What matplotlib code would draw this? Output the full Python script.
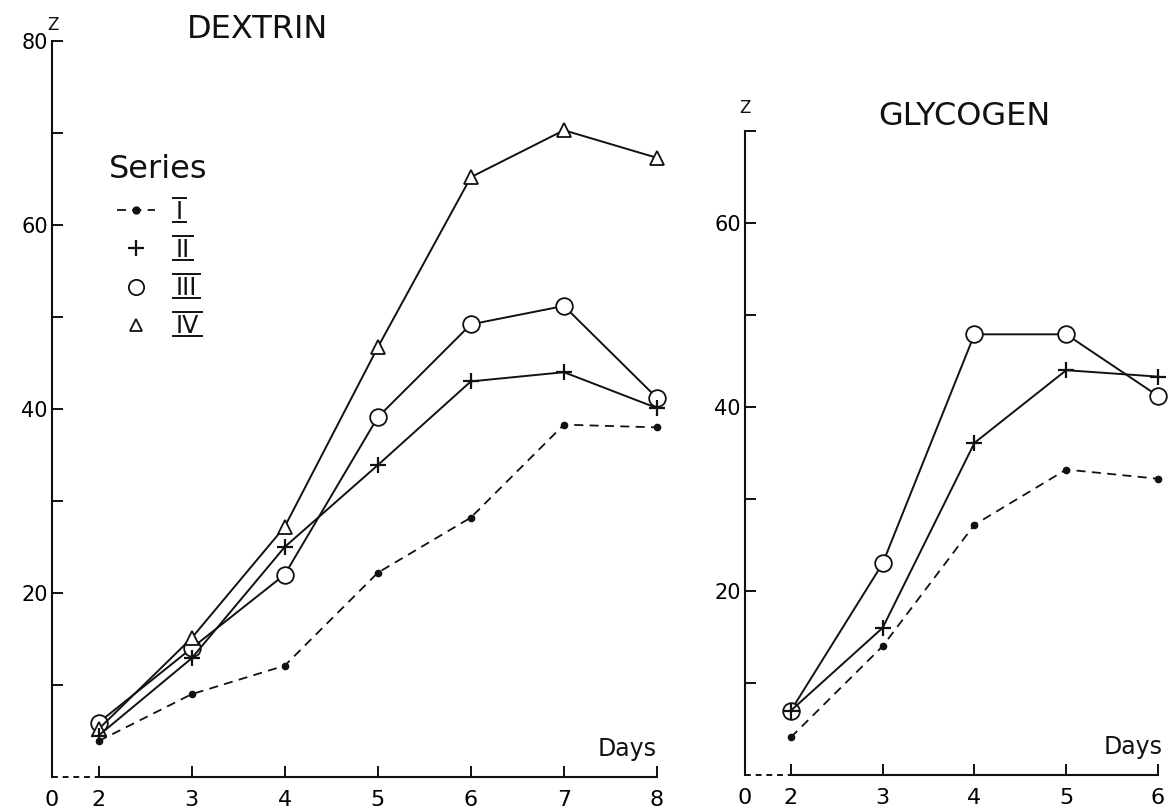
import matplotlib.pyplot as plt
from matplotlib.lines import Line2D

plt.rcParams['font.family'] = 'DejaVu Sans'

# sampling days
dextrin_days = [2, 3, 4, 5, 6, 7, 8]
glycogen_days = [2, 3, 4, 5, 6]

# Z per series, dextrin
dextrin_s1 = [3.9, 9.0, 12.1, 22.2, 28.2, 38.3, 38.0]
dextrin_s2 = [4.5, 12.9, 25.0, 33.9, 43.0, 44.0, 40.1]
dextrin_s3 = [5.9, 14.0, 22.0, 39.1, 49.2, 51.2, 41.2]
dextrin_s4 = [5.2, 15.1, 27.2, 46.7, 65.2, 70.3, 67.3]

# Z per series, glycogen (no series IV)
glycogen_s1 = [4.1, 14.0, 27.2, 33.2, 32.2]
glycogen_s2 = [7.0, 16.0, 36.1, 44.0, 43.3]
glycogen_s3 = [7.0, 23.0, 47.9, 47.9, 41.2]

series_labels = ['I', 'II', 'III', 'IV']

INK = '#111111'

# one style per series
styles = [
    dict(ls=(0, (5, 3.5)), marker='o', ms=4.5, mfc=INK, mec=INK, lw=1.3, zorder=2),
    dict(ls='-', marker='+', ms=11, mew=1.6, lw=1.4, zorder=4),
    dict(ls='-', marker='o', ms=12, mfc='white', mec=INK, mew=1.3, lw=1.4, zorder=3),
    dict(ls='-', marker='^', ms=10, mfc='white', mec=INK, mew=1.3, lw=1.4, zorder=3),
]


def setup_axis(ax, xmax, ymax, ylabeled):
    ax.set_xlim(1.5, xmax)
    ax.set_ylim(0, ymax)
    for side in ['top', 'right']:
        ax.spines[side].set_visible(False)
    ax.spines['left'].set_linewidth(1.5)
    ax.spines['bottom'].set_linewidth(1.5)
    ax.spines['bottom'].set_bounds(2, xmax)
    ax.spines['left'].set_color(INK)
    ax.spines['bottom'].set_color(INK)

    # broken axis: dashed piece from origin to day 2
    ax.axhline(0, xmin=0, xmax=0.5 / (xmax - 1.5), color=INK, lw=1.4,
               ls=(0, (3, 2.5)), clip_on=False)

    xt = [1.5] + list(range(2, int(xmax) + 1))
    ax.set_xticks(xt)
    ax.set_xticklabels(['0'] + [str(v) for v in xt[1:]])
    ax.xaxis.get_major_ticks()[0].tick1line.set_visible(False)

    yt = list(range(10, ymax + 1, 10))
    ax.set_yticks(yt)
    ax.set_yticklabels([str(v) if v in ylabeled else '' for v in yt])

    ax.tick_params(axis='both', direction='in', length=8, width=1.4, color=INK)
    ax.tick_params(axis='x', labelsize=16, pad=9)
    ax.tick_params(axis='y', labelsize=15, pad=3)


fig = plt.figure(figsize=(11.68, 8.08), dpi=100)
ax1 = fig.add_axes([52 / 1168, 31 / 808, 605 / 1168, 736 / 808])
ax2 = fig.add_axes([745 / 1168, 33 / 808, 413 / 1168, 644 / 808])

dextrin = [dextrin_s1, dextrin_s2, dextrin_s3, dextrin_s4]
glycogen = [glycogen_s1, glycogen_s2, glycogen_s3]

for vals, st in zip(dextrin, styles):
    ax1.plot(dextrin_days, vals, color=INK, clip_on=False, **st)
for vals, st in zip(glycogen, styles):
    ax2.plot(glycogen_days, vals, color=INK, clip_on=False, **st)

setup_axis(ax1, 8, 80, [20, 40, 60, 80])
setup_axis(ax2, 6, 70, [20, 40, 60])

# axis letters and panel titles
ax1.text(0.002, 1.009, 'Z', transform=ax1.transAxes, ha='center', va='bottom',
         fontsize=12, color=INK)
ax2.text(0.0, 1.022, 'Z', transform=ax2.transAxes, ha='center', va='bottom',
         fontsize=12, color=INK)
ax1.text(0.223, 1.015, 'DEXTRIN', transform=ax1.transAxes, ha='left',
         va='center', fontsize=23, color=INK)
ax2.text(0.322, 1.022, 'GLYCOGEN', transform=ax2.transAxes, ha='left',
         va='center', fontsize=23, color=INK)
ax1.text(1.0, 0.038, 'Days', transform=ax1.transAxes, ha='right',
         va='center', fontsize=17, color=INK)
ax2.text(1.01, 0.043, 'Days', transform=ax2.transAxes, ha='right',
         va='center', fontsize=17, color=INK)

# legend
handles = []
for st in styles:
    h = dict(st)
    h.pop('zorder')
    if h['ls'] == '-':
        h['ls'] = 'none'
    handles.append(Line2D([], [], color=INK, **h))
handles[0].set_markersize(5)
handles[1].set_markersize(12)
handles[2].set_markersize(11)
handles[3].set_markersize(8)

leg = ax1.legend(handles, series_labels, title='Series', loc='upper left',
                 bbox_to_anchor=(0.074, 0.862), frameon=False, fontsize=17,
                 title_fontsize=23, handlelength=1.6, handletextpad=0.9,
                 labelspacing=0.6, borderpad=0, numpoints=1)
leg.get_title().set_color(INK)

# roman numerals get a bar above and below
fig.canvas.draw()
renderer = fig.canvas.get_renderer()
to_fig = fig.transFigure.inverted()
for t in leg.get_texts():
    t.set_color(INK)
    bb = t.get_window_extent(renderer)
    for yy in (bb.y1 + 2, bb.y0 + 2):
        (x0, y0), (x1, y1) = to_fig.transform([(bb.x0 - 3, yy), (bb.x1 + 3, yy)])
        fig.add_artist(Line2D([x0, x1], [y0, y1], color=INK, lw=1.4,
                              transform=fig.transFigure))

fig.savefig('out.png', dpi=100)
